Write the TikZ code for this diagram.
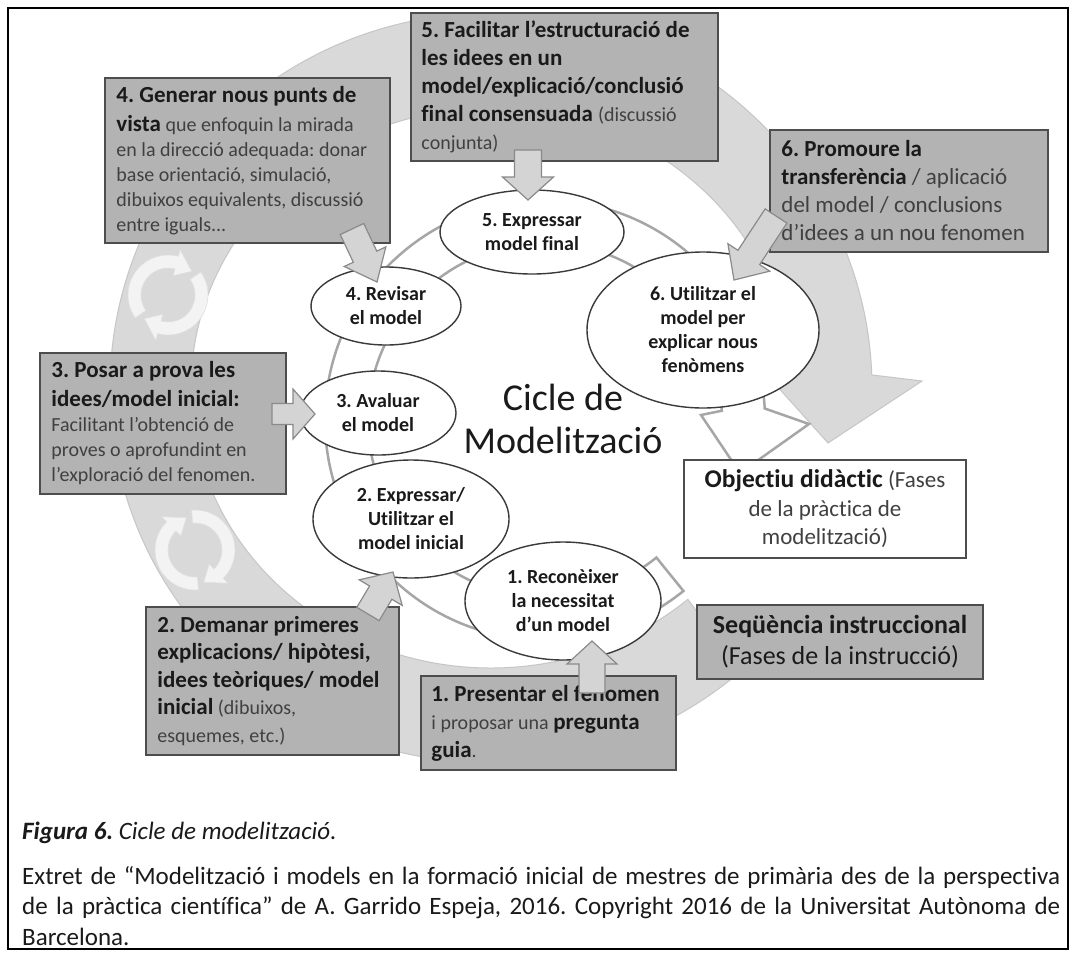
\documentclass[tikz,border=0pt]{standalone}
\usepackage{fontspec}
\setmainfont{Carlito}[Ligatures=NoCommon]
\usetikzlibrary{calc,shapes.geometric}
\frenchspacing

\definecolor{ringgray}{HTML}{D9D9D9}
\definecolor{ringedge}{HTML}{C6C6C6}
\definecolor{boxgray}{HTML}{B3B3B3}
\definecolor{boxedge}{HTML}{4D4D4D}
\definecolor{ellipedge}{HTML}{3A3A3A}
\definecolor{arrowfill}{HTML}{D4D4D4}
\definecolor{arrowedge}{HTML}{8A8A8A}
\definecolor{innerline}{HTML}{A6A6A6}
\definecolor{iconfill}{HTML}{F3F3F3}
\definecolor{ink}{HTML}{1A1A1A}
\definecolor{softink}{HTML}{404040}

% bold title text (large) and regular remark text (small) inside the boxes
\newcommand\Bt[1]{{\fontsize{23}{28}\selectfont\bfseries\color{ink}#1}}
\newcommand\Rs[1]{{\fontsize{20}{25}\selectfont\mdseries\color{softink}#1}}
\newcommand\Bb[1]{{\bfseries\color{ink}#1}}

% block arrow: name, tail, tip, shaft half width, head half width, head length
\newcommand\blockarrow[6]{%
  \coordinate (#1-b) at ($(#3)!#6!(#2)$);
  \draw[blockarrow] ($(#2)!#4!90:(#3)$) -- ($(#1-b)!#4!90:(#3)$)
    -- ($(#1-b)!#5!90:(#3)$) -- (#3) -- ($(#1-b)!#5!-90:(#3)$)
    -- ($(#1-b)!#4!-90:(#3)$) -- ($(#2)!#4!-90:(#3)$) -- cycle;
}

\begin{document}
\begin{tikzpicture}[x=1pt,y=1pt,
  box/.style={draw=boxedge, fill=boxgray, line width=1.5pt, inner sep=0pt},
  plainbox/.style={draw=boxedge, fill=white, line width=1.5pt, inner sep=0pt},
  boxtext/.style={align=left, inner sep=0pt, text=softink, font=\fontsize{20}{25}\selectfont},
  ell/.style={ellipse, draw=ellipedge, fill=white, line width=1.4pt, inner sep=0pt,
    align=center, text=ink, font=\fontsize{20}{24}\selectfont\bfseries},
  blockarrow/.style={fill=arrowfill, draw=arrowedge, line width=1.2pt, line join=miter},
  bigring/.style={fill=ringgray, draw=ringedge, line width=1pt, line join=miter},
  innerring/.style={fill=white, draw=innerline, line width=2.5pt, line join=miter},
  iconarrow/.style={fill=iconfill, draw=white!88!black, line width=0.6pt},
  pics/refresh/.style={code={
    \foreach \r in {0,180}{
      \path[iconarrow, rotate=#1+\r] (215:40) arc[start angle=215, end angle=75, radius=40]
        -- (75:47) -- (45:33.5) -- (75:20) -- (75:27)
        arc[start angle=75, end angle=215, radius=27] -- cycle;
    }
  }}
]
\useasboundingbox (0,0) rectangle (1076,-956);
\fill[white] (0,0) rectangle (1076,-956);

% outer circular arrow: instructional sequence
\coordinate (rc) at (491,-388);
\path[bigring] ([shift={(rc)}]-49:381 and 375)
  arc[start angle=-49, end angle=-358, x radius=381, y radius=375]
  -- (922,-381) -- (828,-443) -- (766,-374)
  -- ([shift={(rc)}]-358:300 and 280)
  arc[start angle=-358, end angle=-49, x radius=300, y radius=280] -- cycle;

% cycle symbols on the outer band
\pic (ica) at (168,-295) {refresh=0};
\pic (icb) at (195,-550) {refresh=60};

% inner circular arrow: modelling practice
\coordinate (irc) at (545,-420);
\path[innerring] ([shift={(irc)}]-51:177) -- ([shift={(irc)}]-51:220)
  arc[start angle=-51, end angle=-357, radius=220]
  -- (809,-424) -- (740,-473) -- (701,-415)
  -- ([shift={(irc)}]-357:177)
  arc[start angle=-357, end angle=-51, radius=177] -- cycle;

% phases of the modelling practice
\node[ell, minimum width=184, minimum height=84] (e5) at (532,-232) {5. Expressar\\model final};
\node[ell, minimum width=150, minimum height=78] (e4) at (386,-306) {4. Revisar\\el model};
\node[ell, minimum width=156, minimum height=84] (e3) at (378,-413) {3. Avaluar\\el model};
\node[ell, minimum width=196, minimum height=118] (e2) at (411,-519) {2. Expressar/\\Utilitzar el\\model inicial};
\node[ell, minimum width=196, minimum height=118] (e1) at (563,-601) {1. Reconèixer\\la necessitat\\d’un model};
\node[ell, minimum width=232, minimum height=156] (e6) at (703,-330) {6. Utilitzar el\\model per\\explicar nous\\fenòmens};

\node[align=center, inner sep=0pt, text=ink, font=\fontsize{38}{43}\selectfont] (title) at (563,-419) {Cicle de\\Modelització};

% instruction phases
\node[box, minimum width=307, minimum height=148] (b5) at (564.5,-87) {};
\node[boxtext, anchor=west, font=\fontsize{23}{28}\selectfont\bfseries, text=ink] (b5t) at ([xshift=11pt]b5.west)
  {5. Facilitar l’estructuració de\\les idees en un\\model/explicació/conclusió\\final consensuada \Rs{(discussió}\\\Rs{conjunta)}};

\node[box, minimum width=285, minimum height=165] (b4) at (247.5,-160.5) {};
\node[boxtext, anchor=west] (b4t) at ([xshift=12pt]b4.west)
  {\Bt{4. Generar nous punts de}\\[4pt]\Bt{vista} que enfoquin la mirada\\en la direcció adequada: donar\\base orientació, simulació,\\dibuixos equivalents, discussió\\entre iguals...};

\node[box, minimum width=278, minimum height=122] (b6) at (909,-191) {};
\node[boxtext, anchor=west, font=\fontsize{23}{28}\selectfont] (b6t) at ([xshift=12pt]b6.west)
  {\Bb{6. Promoure la}\\\Bb{transferència} / aplicació\\del model / conclusions\\d’idees a un nou fenomen};

\node[box, minimum width=246, minimum height=141] (b3) at (163,-423.5) {};
\node[boxtext, anchor=west] (b3t) at ([xshift=12pt]b3.west)
  {\Bt{3. Posar a prova les}\\[4pt]\Bt{idees/model inicial:}\\Facilitant l’obtenció de\\proves o aprofundint en\\l’exploració del fenomen.};

\node[box, minimum width=253, minimum height=148] (b2) at (272.5,-681) {};
\node[boxtext, anchor=west, font=\fontsize{20}{27.5}\selectfont] (b2t) at ([xshift=12pt]b2.west)
  {\Bt{2. Demanar primeres}\\\Bt{explicacions/ hipòtesi,}\\\Bt{idees teòriques/ model}\\\Bt{inicial} (dibuixos,\\esquemes, etc.)};

\node[box, minimum width=255, minimum height=94] (b1) at (548.5,-723) {};
\node[boxtext, anchor=west, font=\fontsize{20}{28}\selectfont] (b1t) at ([xshift=11pt]b1.west)
  {\Bt{1. Presentar el fenomen}\\i proposar una \Bt{pregunta}\\\Bt{guia}.};

\node[box, minimum width=286, minimum height=74] (bs) at (840,-642) {};
\node[align=center, inner sep=0pt, text=ink, font=\fontsize{26}{31}\selectfont] (bst) at (bs.center)
  {\textbf{Seqüència instruccional}\\(Fases de la instrucció)};

\node[plainbox, minimum width=282, minimum height=98] (bo) at (825,-509) {};
\node[align=center, inner sep=0pt, text=softink, font=\fontsize{23}{28.5}\selectfont] (bot) at (bo.center)
  {{\fontsize{25.5}{28.5}\selectfont\bfseries\color{ink}Objectiu didàctic} (Fases\\de la pràctica de\\modelització)};

% arrows from each instruction phase to its modelling phase
\coordinate (a5t) at (528,-150);  \coordinate (a5h) at (528,-200);
\coordinate (a4t) at (352,-229);  \coordinate (a4h) at (377,-282);
\coordinate (a3t) at (272,-414);  \coordinate (a3h) at (315,-414);
\coordinate (a2t) at (368,-614);  \coordinate (a2h) at (393,-572);
\coordinate (a1t) at (592,-693);  \coordinate (a1h) at (592,-641);
\coordinate (a6t) at (776,-216);  \coordinate (a6h) at (734,-280);
\blockarrow{a5}{a5t}{a5h}{13.5pt}{25.5pt}{23pt}
\blockarrow{a4}{a4t}{a4h}{13pt}{23pt}{28pt}
\blockarrow{a3}{a3t}{a3h}{10.5pt}{25pt}{22pt}
\blockarrow{a2}{a2t}{a2h}{13pt}{25pt}{24pt}
\blockarrow{a1}{a1t}{a1h}{13pt}{25pt}{23pt}
\blockarrow{a6}{a6t}{a6h}{13pt}{25pt}{27pt}

% caption and source
\node[anchor=west, inner sep=0pt, text=ink, font=\fontsize{25}{30}\selectfont] (fig) at (22,-833)
  {\textbf{\textit{Figura 6.}} \textit{Cicle de modelització.}};
\node[anchor=north west, inner sep=0pt, text width=1038pt, align=justify, text=ink,
  font=\fontsize{25}{30.5}\selectfont] (src) at (22,-866)
  {Extret de “Modelització i models en la formació inicial de mestres de primària des de la perspectiva\linebreak
   de la pràctica científica” de A. Garrido Espeja, 2016. Copyright 2016 de la Universitat Autònoma de\linebreak
   Barcelona.};

% frame
\draw[line width=2.5pt] (8,-8) rectangle (1068,-949);
\end{tikzpicture}
\end{document}
